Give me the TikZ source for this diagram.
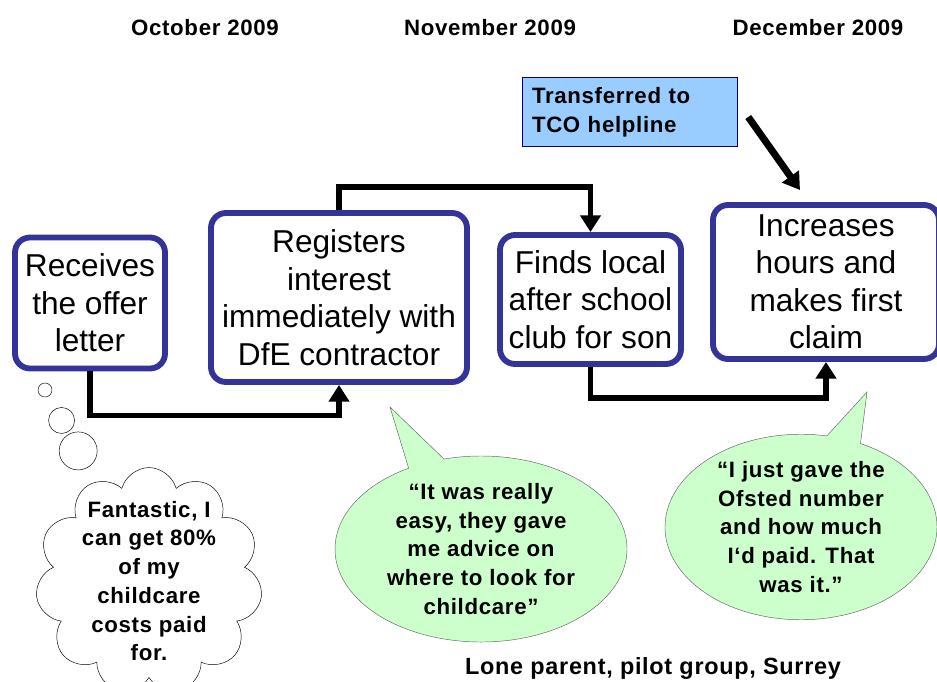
\documentclass[tikz,border=0pt]{standalone}
\usepackage{fontspec}
\setmainfont{Liberation Sans}
\newfontfamily\trk[LetterSpace=3]{Liberation Sans}
\usetikzlibrary{arrows.meta,shapes.callouts,shapes.symbols,calc}
\definecolor{boxblue}{HTML}{333399}
\definecolor{tcofill}{HTML}{99CCFF}
\definecolor{tcoline}{HTML}{000080}
\definecolor{saygreen}{HTML}{CCFFCC}
\tikzset{
  stepbox/.style={draw=boxblue, line width=5pt, rounded corners=0.45cm, fill=white,
    align=center, inner sep=2pt, font=\fontsize{27}{32}\selectfont},
  link/.style={line width=5pt, -{Triangle[width=0.6cm,length=0.5cm]}},
  month/.style={font=\trk\bfseries\fontsize{19}{23}\selectfont},
  quote/.style={ellipse callout, draw=black!60, fill=saygreen, align=center,
    inner sep=0pt, font=\trk\bfseries\fontsize{19}{24.5}\selectfont},
  thought/.style={cloud callout, draw=black, fill=white, align=center, cloud puffs=11,
    inner xsep=-4pt, inner ysep=-10pt, callout pointer segments=3,
    callout pointer start size=1.7cm and 1.5cm, callout pointer end size=0.5cm and 0.42cm,
    font=\trk\bfseries\fontsize{19}{24.5}\selectfont}
}
\begin{document}
\begin{tikzpicture}[x=0.03cm,y=-0.03cm]
    \useasboundingbox (0,0) rectangle (937,681);

    % months
    \node[month] (oct) at (205,28) {October 2009};
    \node[month] (nov) at (490,28) {November 2009};
    \node[month] (dec) at (818,28) {December 2009};

    % the four steps
    \node[stepbox, minimum width=4.5cm, minimum height=3.93cm] (rec) at (90,303)
        {Receives\\the offer\\letter};
    \node[stepbox, minimum width=7.68cm, minimum height=5.07cm] (reg) at (339,297.5)
        {Registers\\interest\\immediately with\\DfE contractor};
    \node[stepbox, minimum width=5.43cm, minimum height=3.87cm] (fin) at (590.5,299.5)
        {Finds local\\after school\\club for son};
    \node[stepbox, minimum width=6.78cm, minimum height=4.62cm] (inc) at (826,282)
        {Increases\\hours and\\makes first\\claim};

    % helpline box
    \node[draw=tcoline, fill=tcofill, minimum width=6.45cm, minimum height=2.04cm,
        text width=5.85cm, inner sep=0.3cm, align=left,
        font=\trk\bfseries\fontsize{19}{24.5}\selectfont] (tco) at (629.5,112)
        {Transferred to\\TCO helpline};

    % connectors
    \draw[link] (rec.south) -- ++(0,44) -| (reg.south);
    \draw[link] (reg.north) -- ++(0,-23) -| (fin.north);
    \draw[link] (fin.south) -- ++(0,31) -| (inc.south);
    \draw[link, line width=6pt] ($(tco.east)+(11,5)$) -- ($(inc.north)+(-26,-12)$);

    % what she thought and said
    \node[thought, minimum width=6.2cm, minimum height=5.4cm,
        callout absolute pointer={(45,390)}] (think) at (149,581)
        {Fantastic, I\\can get 80\%\\of my\\childcare\\costs paid\\for.};
    \node[quote, minimum width=8.76cm, minimum height=5.58cm,
        callout absolute pointer={(390,407)}] (say1) at (481,549)
        {“It was really\\easy, they gave\\me advice on\\where to look for\\childcare”};
    \node[quote, minimum width=8.16cm, minimum height=4.98cm,
        callout absolute pointer={(867,392)}] (say2) at (801,527)
        {“I just gave the\\Ofsted number\\and how much\\I‘d paid. That\\was it.”};

    \node[font=\trk\bfseries\fontsize{20}{24}\selectfont] (who) at (653,668)
        {Lone parent, pilot group, Surrey};
\end{tikzpicture}
\end{document}
